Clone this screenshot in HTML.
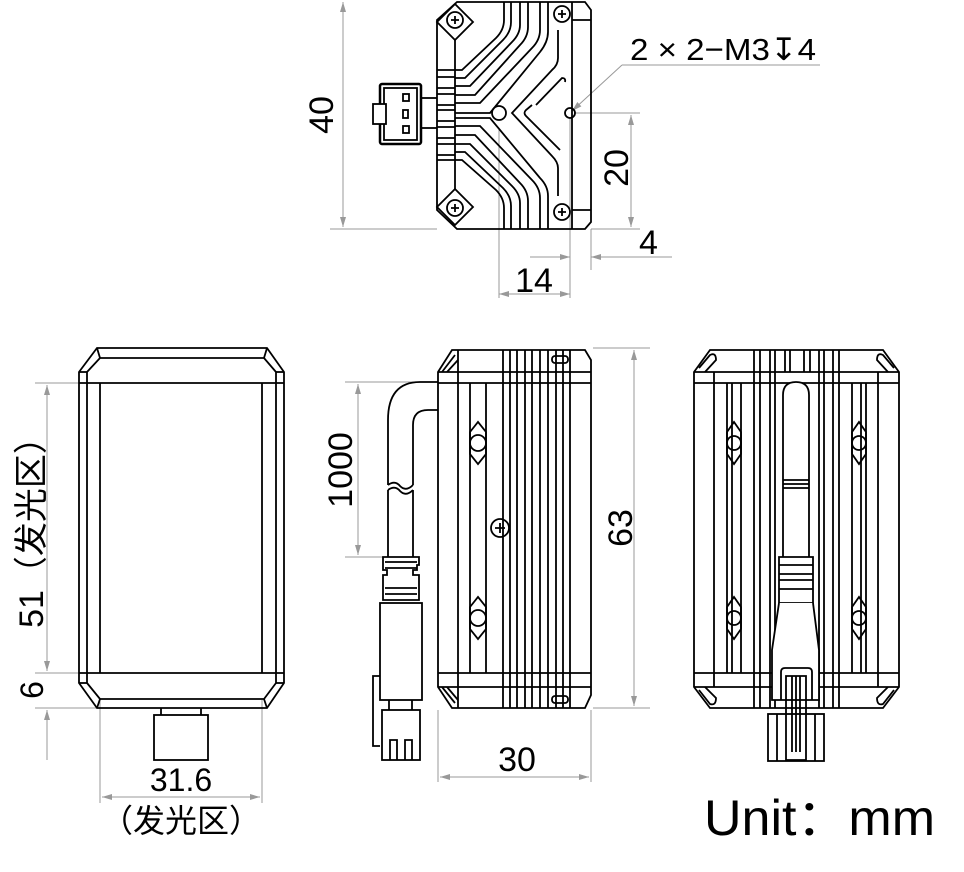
<!DOCTYPE html>
<html><head><meta charset="utf-8"><style>
html,body{margin:0;padding:0;background:#fff;width:964px;height:872px;overflow:hidden}
svg{display:block}
text{font-family:"Liberation Sans","Noto Sans CJK SC",sans-serif;fill:#000}
</style></head><body>
<svg width="964" height="872" viewBox="0 0 964 872" xmlns="http://www.w3.org/2000/svg">
<defs>
<marker id="a" viewBox="0 0 10 6" refX="10" refY="3" markerWidth="14" markerHeight="6" markerUnits="userSpaceOnUse" orient="auto-start-reverse"><path d="M0,0L10,3L0,6z" fill="#999"/></marker>
</defs>
<g stroke="#999" stroke-width="1" fill="none">
<line x1="330" y1="229" x2="437" y2="229"/>
<line x1="343" y1="2" x2="343" y2="227" marker-start="url(#a)" marker-end="url(#a)"/>
<line x1="575" y1="113" x2="640" y2="113"/>
<line x1="631" y1="115" x2="631" y2="227" marker-start="url(#a)" marker-end="url(#a)"/>
<line x1="591" y1="229" x2="640" y2="229"/>
<line x1="591" y1="229" x2="591" y2="270"/>
<line x1="530" y1="257" x2="570" y2="257" marker-end="url(#a)"/>
<line x1="672" y1="257" x2="591" y2="257" marker-end="url(#a)"/>
<line x1="499" y1="130" x2="499" y2="298"/>
<line x1="570" y1="118" x2="570" y2="298"/>
<line x1="499" y1="294" x2="570" y2="294" marker-start="url(#a)" marker-end="url(#a)"/>
<line x1="622" y1="65" x2="572" y2="111" marker-end="url(#a)"/>
<line x1="622" y1="65" x2="820" y2="65"/>
<line x1="35" y1="383" x2="80" y2="383"/>
<line x1="35" y1="673" x2="80" y2="673"/>
<line x1="35" y1="708" x2="97" y2="708"/>
<line x1="47" y1="385" x2="47" y2="671" marker-start="url(#a)" marker-end="url(#a)"/>
<line x1="47" y1="760" x2="47" y2="710" marker-end="url(#a)"/>
<line x1="100" y1="700" x2="100" y2="803"/>
<line x1="262" y1="700" x2="262" y2="803"/>
<line x1="102" y1="797" x2="260" y2="797" marker-start="url(#a)" marker-end="url(#a)"/>
<line x1="345" y1="382" x2="436" y2="382"/>
<line x1="345" y1="557" x2="385" y2="557"/>
<line x1="358" y1="384" x2="358" y2="555" marker-start="url(#a)" marker-end="url(#a)"/>
<line x1="593" y1="348" x2="650" y2="348"/>
<line x1="593" y1="708" x2="650" y2="708"/>
<line x1="634" y1="350" x2="634" y2="706" marker-start="url(#a)" marker-end="url(#a)"/>
<line x1="438" y1="710" x2="438" y2="782"/>
<line x1="591" y1="710" x2="591" y2="782"/>
<line x1="440" y1="777" x2="589" y2="777" marker-start="url(#a)" marker-end="url(#a)"/>
</g>

<g stroke="#000" stroke-width="1.8" fill="none">
<path d="M457,2 L585,2 L591,10 L591,222 L585,229 L457,229 L437,210 L437,165 L437,70 L437,20 Z"/>
<line x1="572" y1="2" x2="572" y2="229"/>
<line x1="572" y1="20" x2="591" y2="20"/>
<line x1="572" y1="210" x2="591" y2="210"/>
<path d="M437,22 L455,4 L473,22 L455,40 Z"/>
<path d="M437,207 L455,189 L473,207 L455,225 Z"/>
<line x1="455" y1="40" x2="455" y2="189"/>
<circle cx="455" cy="20" r="8"/><circle cx="455" cy="208" r="8"/>
<circle cx="562" cy="14" r="8"/><circle cx="562" cy="212" r="8"/>
<path d="M451,20h8M455,16v8M451,208h8M455,204v8M558,14h8M562,10v8M558,212h8M562,208v8"/>
<path d="M504,2 V20 Q504,30 496,38 L462,70 H437"/>
<path d="M511,2 V22 Q511,32 503,40 L465,78 H455"/>
<path d="M520,2 V25 Q520,34 512,42 L470,86 H455"/>
<path d="M528,2 V27 Q528,37 520,45 L475,95 H455"/>
<path d="M540,2 V30 Q540,40 532,48 L480,103 H455"/>
<path d="M548,2 V32 Q548,42 540,52 L490,113 H455"/>
<path d="M504,229 V208 Q504,198 496,190 L462,160 H437"/>
<path d="M511,229 V206 Q511,196 503,188 L465,152 H455"/>
<path d="M520,229 V203 Q520,194 512,186 L470,144 H455"/>
<path d="M528,229 V201 Q528,191 520,183 L475,135 H455"/>
<path d="M540,229 V198 Q540,188 532,180 L480,126 H455"/>
<path d="M548,229 V196 Q548,186 540,178 L490,118 H455"/>
<path d="M558,30 V58 Q558,65 552,70 L512,113 L552,156 Q558,162 558,168 V196"/>
<path d="M565,82 Q566,78 562,78 L536,105"/>
<path d="M532,105 L526,110 Q523,113 526,116 L560,150"/>
<line x1="437" y1="77" x2="455" y2="77"/><line x1="437" y1="88" x2="455" y2="88"/>
<line x1="437" y1="94" x2="455" y2="94"/><line x1="437" y1="105" x2="455" y2="105"/>
<line x1="437" y1="110" x2="455" y2="110"/><line x1="437" y1="121" x2="455" y2="121"/>
<line x1="437" y1="127" x2="455" y2="127"/><line x1="437" y1="138" x2="455" y2="138"/>
<line x1="437" y1="144" x2="455" y2="144"/><line x1="437" y1="155" x2="455" y2="155"/>
<circle cx="499" cy="113" r="7"/>
<circle cx="570" cy="113" r="5"/>
<rect x="380" y="84" width="41" height="60" rx="2" stroke-width="2.5"/>
<rect x="384" y="88" width="33" height="52"/>
<line x1="421" y1="98" x2="437" y2="98"/><line x1="421" y1="128" x2="437" y2="128"/>
<rect x="373" y="104" width="13" height="20" fill="#fff"/>
<rect x="403" y="94" width="6" height="7"/><rect x="403" y="110" width="5" height="8"/><rect x="403" y="126" width="6" height="7"/>

<path d="M97,348 L267,348 L284,372 L284,683 L267,708 L97,708 L79,683 L79,372 Z"/>
<path d="M100,358 L264,358 L276,372 L276,683 L264,699 L100,699 L87,683 L87,372 Z"/>
<line x1="79" y1="372" x2="87" y2="372"/><line x1="97" y1="348" x2="100" y2="358"/>
<line x1="267" y1="348" x2="264" y2="358"/><line x1="276" y1="372" x2="284" y2="372"/>
<line x1="79" y1="683" x2="87" y2="683"/><line x1="97" y1="708" x2="100" y2="699"/>
<line x1="267" y1="708" x2="264" y2="699"/><line x1="276" y1="683" x2="284" y2="683"/>
<line x1="79" y1="383" x2="284" y2="383"/><line x1="79" y1="673" x2="284" y2="673"/>
<line x1="100" y1="383" x2="100" y2="673"/><line x1="262" y1="383" x2="262" y2="673"/>
<line x1="161" y1="708" x2="161" y2="715"/><line x1="201" y1="708" x2="201" y2="715"/>
<rect x="154" y="715" width="54" height="45"/>

<path d="M438,372 L452,350 L585,350 L591,360 L591,695 L585,708 L452,708 L438,687 Z"/>
<line x1="438" y1="372" x2="591" y2="372"/><line x1="438" y1="383" x2="591" y2="383"/>
<line x1="438" y1="673" x2="591" y2="673"/><line x1="438" y1="687" x2="591" y2="687"/>
<line x1="458" y1="350" x2="458" y2="708"/>
<line x1="470" y1="383" x2="470" y2="673"/><line x1="486" y1="383" x2="486" y2="673"/>
<path d="M503,350V708M510,350V708M517,350V708M525,350V708M532,350V708M540,350V708M548,350V708M556,350V708M563,350V708M570,350V708"/>
<path d="M442,372 L455,355 M447,372 L458,360"/>
<path d="M442,687 L455,703 M447,687 L458,700"/>
<rect x="552" y="356" width="16" height="7" rx="3"/><rect x="552" y="696" width="16" height="7" rx="3"/>
<circle cx="500" cy="528" r="9"/><path d="M495,528h10M500,523v10"/>
<path d="M470,432 L478,422 L486,432 L486,454 L478,464 L470,454 Z"/><circle cx="478" cy="443" r="8"/>
<path d="M470,607 L478,597 L486,607 L486,629 L478,639 L470,629 Z"/><circle cx="478" cy="618" r="8"/>
<path d="M438,382 L420,382 Q388,382 388,420 L388,485"/>
<path d="M438,410 L428,410 Q413,410 413,425 L413,485"/>
<path d="M388,485 Q395,480 400,486 Q406,492 413,485"/>
<path d="M388,490 Q395,485 400,491 Q406,497 413,490"/>
<path d="M388,490 V557 M413,490 V557"/>
<path d="M383,557 H419 V565 H417 V570 H413 V575 H419 V600 H383 V575 H387 V570 H383 Z"/>
<path d="M385,562 H417 M385,568 H417 M385,588 H417 M385,594 H417"/>
<rect x="380" y="603" width="42" height="97"/>
<path d="M380,676 H373 V746 H380"/>
<path d="M389,700 V710 M412,700 V710"/>
<rect x="382" y="710" width="38" height="50"/>
<path d="M390,760 V740 H397 V760 M405,760 V740 H412 V760"/>

<path d="M694,372 L710,350 L883,350 L899,372 L899,687 L883,708 L710,708 L694,687 Z"/>
<line x1="694" y1="372" x2="899" y2="372"/><line x1="694" y1="383" x2="899" y2="383"/>
<line x1="694" y1="673" x2="899" y2="673"/><line x1="694" y1="687" x2="899" y2="687"/>
<path d="M714,372V687M878,372V687"/>
<path d="M727,383V673M732,383V673M741,383V673M754,350V708M760,350V708M770,350V708M775,350V708"/>
<path d="M866,383V673M861,383V673M852,383V673M839,350V708M833,350V708M824,350V708M819,350V708"/>
<path d="M785,350V372M790,350V372M804,350V372M810,350V372"/>
<path d="M699,368 L710,355 Q716,352 716,360 L705,372 M894,368 L883,355 Q877,352 877,360 L888,372"/>
<path d="M699,690 L710,704 Q716,706 716,698 L705,687 M894,690 L883,704 Q877,706 877,698 L888,687"/>
<path d="M727,432 L734,422 L741,432 L741,454 L734,464 L727,454Z"/><circle cx="734" cy="443" r="7"/>
<path d="M727,607 L734,597 L741,607 L741,629 L734,639 L727,629Z"/><circle cx="734" cy="618" r="7"/>
<path d="M852,432 L859,422 L866,432 L866,454 L859,464 L852,454Z"/><circle cx="859" cy="443" r="7"/>
<path d="M852,607 L859,597 L866,607 L866,629 L859,639 L852,629Z"/><circle cx="859" cy="618" r="7"/>
<path d="M783,557 V395 Q783,382 796,382 Q809,382 809,395 V557" fill="#fff"/>
<path d="M783,480 H809 M783,484 H809 M783,488 H809"/>
<path d="M779,557 H813 V603 H779 Z" fill="#fff"/>
<path d="M779,565 H813 M779,574 H813 M779,580 H813 M779,589 H813"/>
<path d="M779,603 L772,650 V700 H819 V650 L813,603" fill="#fff"/>
<path d="M781,700 V672 Q781,668 785,668 H808 Q812,668 812,672 V700"/>
<path d="M786,676 H806 V760 H786 Z"/>
<path d="M792,676V752M796,676V752M800,676V752"/>
<rect x="768" y="714" width="56" height="47"/>
<line x1="777" y1="714" x2="777" y2="761"/><line x1="815" y1="714" x2="815" y2="761"/>
</g>

<text x="630" y="60" font-size="31" textLength="186" lengthAdjust="spacingAndGlyphs">2 × 2−M3↧4</text>
<text transform="translate(333,115) rotate(-90)" font-size="34" text-anchor="middle">40</text>
<text transform="translate(628,168) rotate(-90)" font-size="34" text-anchor="middle">20</text>
<text x="639" y="254" font-size="34">4</text>
<text x="534" y="292" font-size="34" text-anchor="middle">14</text>
<text transform="translate(43,524) rotate(-90)" font-size="34" text-anchor="middle">51（发光区）</text>
<text transform="translate(43,690) rotate(-90)" font-size="32" text-anchor="middle">6</text>
<text x="181" y="791" font-size="32" text-anchor="middle">31.6</text>
<text x="181" y="832" font-size="32" text-anchor="middle">（发光区）</text>
<text transform="translate(352,470) rotate(-90)" font-size="34" text-anchor="middle">1000</text>
<text transform="translate(632,528) rotate(-90)" font-size="34" text-anchor="middle">63</text>
<text x="517" y="771" font-size="34" text-anchor="middle">30</text>
<text x="704" y="835" font-size="50" textLength="231" lengthAdjust="spacingAndGlyphs">Unit：mm</text>
</svg>
</body></html>
